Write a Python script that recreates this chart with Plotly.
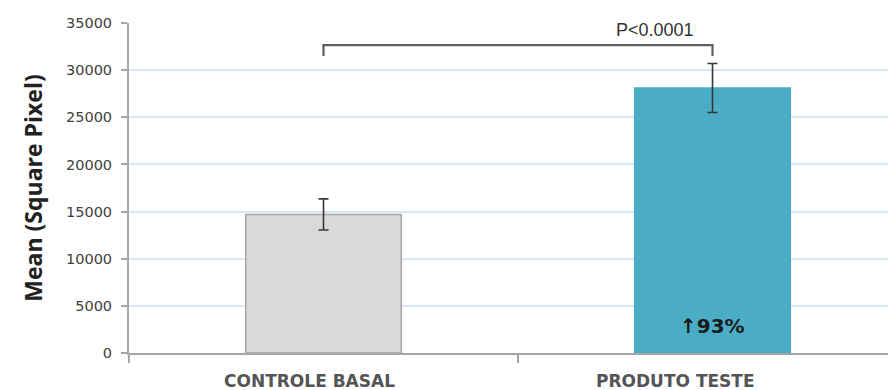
import plotly.graph_objects as go

categories = ["CONTROLE BASAL", "PRODUTO TESTE"]
means = [14700, 28100]
errors = [1650, 2600]
bar_colors = ["#d9d9d9", "#4bacc6"]
bar_line_colors = ["#a6a6a6", "#4bacc6"]
y_ticks = [0, 5000, 10000, 15000, 20000, 25000, 30000, 35000]
bracket_top = 32650
bracket_end = 31500
p_label = "P<0.0001"
p_label_y = 34250
increase_label = "↑93%"
increase_label_y = 2850
label_shifts = [-14, -37]

fig = go.Figure()
fig.add_trace(go.Bar(
    x=categories, y=means, width=0.4,
    marker=dict(color=bar_colors, line=dict(color=bar_line_colors, width=1.5)),
    error_y=dict(type="data", array=errors, visible=True, color="#383838",
                 thickness=1.6, width=5),
    showlegend=False, hoverinfo="skip",
))
fig.add_trace(go.Scatter(
    x=[categories[0], categories[0], categories[1], categories[1]],
    y=[bracket_end, bracket_top, bracket_top, bracket_end],
    mode="lines", line=dict(color="#606060", width=2.2),
    showlegend=False, hoverinfo="skip",
))
fig.add_annotation(x=categories[1], y=p_label_y, text=p_label, showarrow=False,
                   xanchor="center", xshift=-58,
                   font=dict(family="Liberation Sans, Arial", size=18, color="#333333"))
fig.add_annotation(x=categories[1], y=increase_label_y, text="<b>" + increase_label + "</b>",
                   showarrow=False, xanchor="center",
                   font=dict(family="DejaVu Sans, Arial", size=20, color="#1a1a1a"))
for cat, sh in zip(categories, label_shifts):
    fig.add_annotation(x=cat, y=0, yref="y", text="<b>" + cat + "</b>", showarrow=False,
                       xanchor="center", yanchor="middle", xshift=sh, yshift=-28,
                       font=dict(family="DejaVu Sans", size=17, color="#555555"))

fig.update_layout(
    width=888, height=382,
    margin=dict(l=121, r=0, t=15, b=37, autoexpand=False),
    paper_bgcolor="white", plot_bgcolor="white",
    bargap=0.6,
    xaxis=dict(
        range=[-0.5, 1.4717], showgrid=False, automargin=False,
        showline=True, linecolor="#a6a6a6", linewidth=2,
        ticks="outside", tickson="boundaries", ticklen=8, tickcolor="#a6a6a6", tickwidth=1.5,
        showticklabels=False,
        fixedrange=True,
    ),
    yaxis=dict(
        range=[0, 35000], tickvals=y_ticks, ticktext=[str(v) for v in y_ticks],
        showgrid=True, gridcolor="#dce5f2", gridwidth=1.5, automargin=False,
        showline=True, linecolor="#a6a6a6", linewidth=2,
        ticks="outside", ticklen=6, tickcolor="#a6a6a6", tickwidth=1.5,
        ticklabelstandoff=6,
        tickfont=dict(family="DejaVu Sans", size=14.5, color="#404040"),
        title=dict(text="<b>Mean (Square Pixel)</b>", standoff=17,
                   font=dict(family="Open Sans, Liberation Sans", size=23, color="#222222")),
        zeroline=False,
    ),
)
fig.write_html("out.html")
